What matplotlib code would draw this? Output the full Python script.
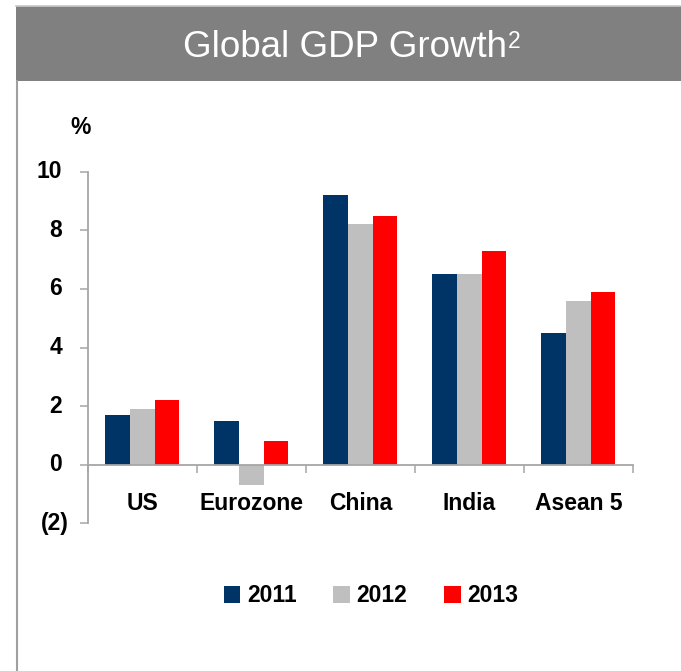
import matplotlib
matplotlib.use("Agg")
import matplotlib.pyplot as plt
from matplotlib.patches import Rectangle, Patch
from matplotlib.lines import Line2D
from matplotlib.transforms import blended_transform_factory
import numpy as np

plt.rcParams['font.family'] = ['Liberation Sans', 'DejaVu Sans']

# GDP growth by region, %
regions = ['US', 'Eurozone', 'China', 'India', 'Asean 5']
years = ['2011', '2012', '2013']
growth_2011 = [1.7, 1.5, 9.2, 6.5, 4.5]
growth_2012 = [1.9, -0.7, 8.2, 6.5, 5.6]
growth_2013 = [2.2, 0.8, 8.5, 7.3, 5.9]
y_ticks = [-2, 0, 2, 4, 6, 8, 10]
y_tick_labels = ['(2)', '0', '2', '4', '6', '8', '10']

colors = ['#003366', '#BFBFBF', '#FF0000']
axis_grey = '#A6A6A6'
fs = 16.5

W, H = 681, 671
fig = plt.figure(figsize=(W / 100, H / 100), dpi=100)

# header band and frame
fig.patches.append(Rectangle((16 / W, 1 - 81 / H), 1 - 16 / W, 75 / H,
                             transform=fig.transFigure, facecolor='#808080',
                             edgecolor='none', zorder=0))
fig.lines.append(Line2D([16 / W, 1], [1 - 6 / H, 1 - 6 / H], transform=fig.transFigure,
                        color='#C8C8C8', lw=1.2))
fig.lines.append(Line2D([16.5 / W, 16.5 / W], [0, 1 - 81 / H], transform=fig.transFigure,
                        color='#A0A0A0', lw=1.5))

title = fig.text(183 / W, 1 - 57 / H, 'Global GDP Growth', color='white',
                 fontsize=26.5, ha='left', va='baseline')
fig.canvas.draw()
bb = title.get_window_extent()
fig.text(bb.x1 / W + 1 / W, 1 - 47.5 / H, '2', color='white', fontsize=16.5,
         ha='left', va='baseline')

# plot area
ax_left, ax_right = 87.7 / W, 633 / W
ax_bottom, ax_top = 1 - 523.3 / H, 1 - 171.7 / H
ax = fig.add_axes([ax_left, ax_bottom, ax_right - ax_left, ax_top - ax_bottom])

x = np.arange(len(regions))
bw = 0.226
for i, (vals, yr) in enumerate(zip([growth_2011, growth_2012, growth_2013], years)):
    ax.bar(x + (i - 1) * bw, vals, width=bw, color=colors[i], label=yr, zorder=2)

ax.set_xlim(-0.5, len(regions) - 0.5)
ax.set_ylim(-2, 10)

for s in ['top', 'right']:
    ax.spines[s].set_visible(False)
ax.spines['left'].set_color(axis_grey)
ax.spines['left'].set_linewidth(1.3)
ax.spines['bottom'].set_position(('data', 0))
ax.spines['bottom'].set_color(axis_grey)
ax.spines['bottom'].set_linewidth(1.3)
ax.spines['bottom'].set_zorder(3)

# y labels: positives leave room for the closing bracket of negatives
ax.set_yticks(y_ticks)
ax.set_yticklabels([])
ax.tick_params(axis='y', direction='out', length=5.5, width=1.1, color=axis_grey)
ylab_tr = blended_transform_factory(fig.transFigure, ax.transData)
for v, lab in zip(y_ticks, y_tick_labels):
    xoff = 68.5 if lab.startswith('(') else 62
    ax.text(xoff / W, v, lab, transform=ylab_tr, ha='right', va='center',
            fontsize=fs, fontweight='bold')

ax.set_xticks(x)
ax.set_xticklabels(regions, fontsize=fs, fontweight='bold')
ax.tick_params(axis='x', which='major', length=0, pad=20)
ax.set_xticks(np.arange(len(regions) + 1) - 0.5, minor=True)
ax.tick_params(axis='x', which='minor', direction='out', length=5.5, width=1.1,
               color=axis_grey)

fig.text(70 / W, 1 - 127 / H, '%', fontsize=fs, fontweight='bold', ha='left', va='center')

handles = [Patch(facecolor=c, edgecolor='none') for c in colors]
fig.legend(handles, years, loc='center', bbox_to_anchor=(371 / W, 1 - 596 / H),
           ncol=3, frameon=False, prop={'size': fs, 'weight': 'bold'},
           handlelength=0.72, handleheight=0.72, handletextpad=0.3,
           columnspacing=1.6, borderaxespad=0)

fig.savefig('out.png', dpi=100)
